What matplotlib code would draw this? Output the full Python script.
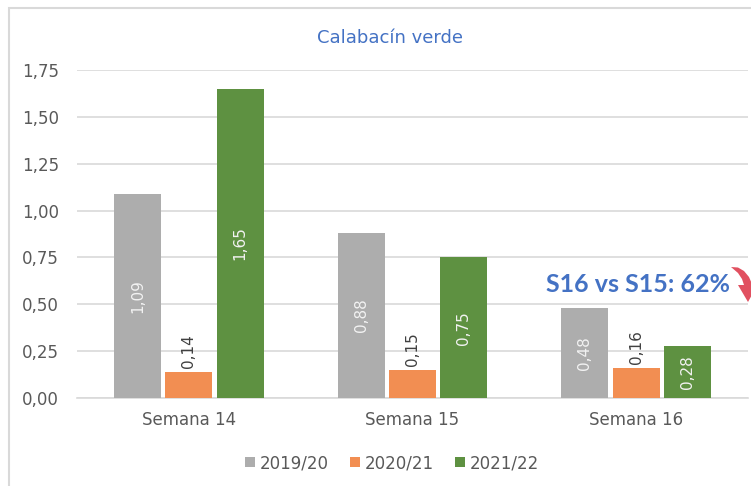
import matplotlib
matplotlib.use("Agg")
import matplotlib.pyplot as plt
import numpy as np
from matplotlib.lines import Line2D
from matplotlib.patches import Polygon

categories = ["Semana 14", "Semana 15", "Semana 16"]
series_names = ["2019/20", "2020/21", "2021/22"]
v2019 = [1.09, 0.88, 0.48]
v2020 = [0.14, 0.15, 0.16]
v2021 = [1.65, 0.75, 0.28]
yticks = [0.0, 0.25, 0.5, 0.75, 1.0, 1.25, 1.5, 1.75]
title = "Calabacín verde"
note = "S16 vs S15: 62%"

colors = ["#ADADAD", "#F28E52", "#5E9141"]
label_colors = ["#F2F2F2", "#404040", "#F2F2F2"]
txt = "#595959"
plt.rcParams['font.family'] = ['DejaVu Sans']

fig = plt.figure(figsize=(7.51, 4.86), dpi=100, facecolor="white")
W, H = 751, 486
ax = fig.add_axes([77/W, (H-398)/H, 671/W, 328/H])

# chart frame (left and top edges visible)
fig.lines.append(Line2D([9/W, 9/W, 1.0], [0.0, 1 - 8.5/H, 1 - 8.5/H], transform=fig.transFigure,
                        color="#D9D9D9", linewidth=1.5, zorder=0,
                        solid_capstyle="butt", solid_joinstyle="miter"))

x = np.arange(len(categories))
bw = 0.21
pitch = 0.23
allv = [v2019, v2020, v2021]
for i, (vals, c, lc, name) in enumerate(zip(allv, colors, label_colors, series_names)):
    pos = x + (i - 1) * pitch
    ax.bar(pos, vals, width=bw, color=c, label=name, zorder=3)
    for p, v in zip(pos, vals):
        s = f"{v:.2f}".replace(".", ",")
        if i == 1:
            ax.text(p, v + 0.02, s, rotation=90, ha="center", va="bottom",
                    color=lc, fontsize=11, zorder=4)
        else:
            ax.text(p, v / 2, s, rotation=90, ha="center", va="center",
                    color=lc, fontsize=11, zorder=4)

ax.set_xlim(-0.5, 2.5)
ax.set_ylim(0, 1.75)
ax.set_yticks(yticks)
ax.set_yticklabels([f"{t:.2f}".replace(".", ",") for t in yticks])
ax.set_xticks(x)
ax.set_xticklabels(categories)
ax.tick_params(axis="both", length=0, colors=txt, labelsize=12)
ax.tick_params(axis="y", pad=13)
ax.tick_params(axis="x", pad=9)
ax.yaxis.grid(True, color="#D9D9D9", linewidth=1.2, zorder=0)
ax.set_axisbelow(True)
for s in ax.spines.values():
    s.set_visible(False)
ax.spines["bottom"].set_visible(True)
ax.spines["bottom"].set_color("#D9D9D9")
ax.spines["bottom"].set_linewidth(1.2)

fig.text(390/W, 1 - 38/H, title, ha="center", va="center", color="#4472C4", fontsize=13)

ax.text(2.01, 0.605, note, ha="center", va="center", color="#4472C4",
        fontsize=18, fontweight="bold", family=["Lato", "DejaVu Sans"], zorder=5)

# curved red arrow (decorative shape, pixel coordinates)
arrow_px = [(731, 267), (738, 267.5), (744, 271), (749, 277), (752, 284),
            (758, 284), (748, 302), (738, 285), (744, 285),
            (742, 279), (738, 273), (731, 267)]
fig.patches.append(Polygon([(px / W, 1 - py / H) for px, py in arrow_px], closed=True,
                           transform=fig.transFigure, facecolor="#E15060",
                           edgecolor="none", zorder=6))

leg = fig.legend(loc="center", bbox_to_anchor=(392/W, 1 - 463/H), ncol=3, frameon=False,
                 fontsize=12, handlelength=0.6, handleheight=0.6, handletextpad=0.25,
                 columnspacing=1.3)
for t in leg.get_texts():
    t.set_color(txt)

fig.savefig("out.png", dpi=100, facecolor="white")
